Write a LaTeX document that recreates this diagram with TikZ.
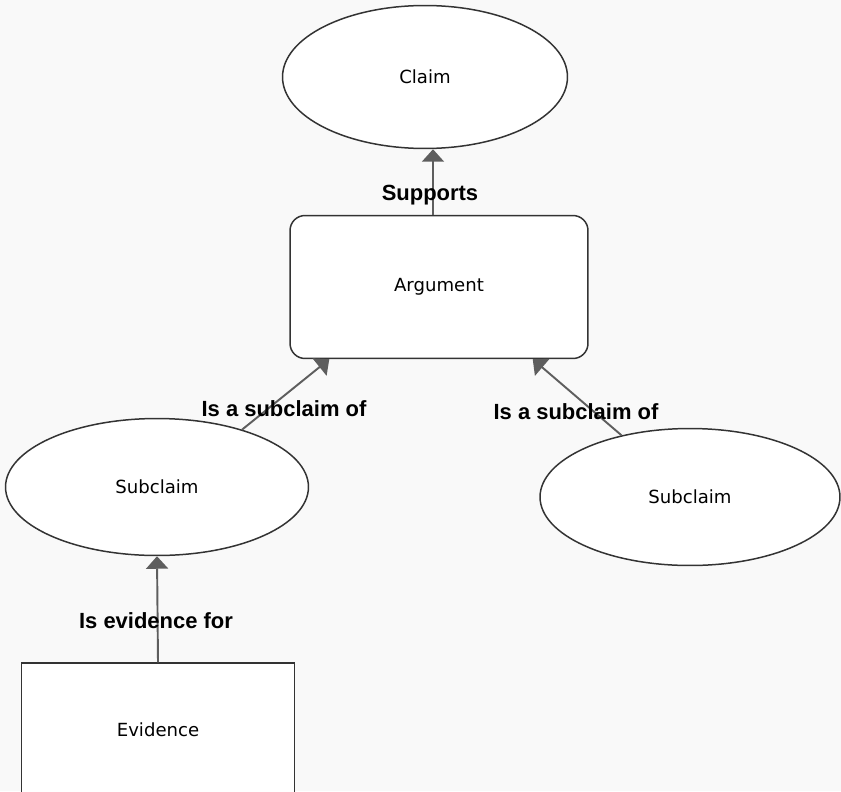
\documentclass[tikz,border=0pt]{standalone}
\usepackage{fontspec}
\setmainfont{DejaVu Sans}
\newfontfamily\lblfont{Liberation Sans}
\usepackage{xcolor}
\usetikzlibrary{shapes.geometric,arrows.meta}
\definecolor{edgegray}{HTML}{5E5E5E}
\definecolor{linegray}{HTML}{333333}
\definecolor{paper}{HTML}{F9F9F9}
\tikzset{
    EL1/.style ={ellipse, draw=linegray, line width=0.85pt, fill=white, font=\fontsize{10.3}{12}\selectfont},
    RA1/.style ={rectangle, rounded corners=0.3cm, draw=linegray, line width=0.85pt, fill=white, font=\fontsize{10.3}{12}\selectfont},
    RA2/.style ={rectangle, draw=linegray, line width=0.85pt, fill=white, font=\fontsize{10.3}{12}\selectfont},
    AR1/.style ={draw=edgegray, line width=1.1pt, -{Triangle[width=0.44cm,length=0.25cm]}},
    LB1/.style ={font=\lblfont\bfseries\fontsize{12.5}{14}\selectfont}
}
\begin{document}
\begin{tikzpicture}[x=0.02cm,y=-0.02cm]
        \useasboundingbox (0,0) rectangle (841,791);
        \fill[paper] (0,0) rectangle (841,791);
        \clip (0,0) rectangle (841,791);
        \node[EL1, minimum width=5.7cm, minimum height=2.86cm] (claim) at(425,77) {Claim};
        \node[RA1, minimum width=5.96cm, minimum height=2.86cm] (arg) at(439,287) {Argument};
        \node[EL1, minimum width=6.06cm, minimum height=2.74cm] (sub1) at(157,487) {Subclaim};
        \node[EL1, minimum width=6cm, minimum height=2.74cm] (sub2) at(690,497) {Subclaim};
        \node[RA2, minimum width=5.46cm, minimum height=2.68cm] (ev) at(158,730) {Evidence};
        \draw[AR1] ([xshift=-0.12cm]arg.north) -- ([xshift=-0.12cm]arg.north |- claim.south);
        \draw[AR1] (sub1.34) -- ([xshift=0.8cm]arg.south west);
        \draw[AR1] (sub2.138) -- ([xshift=-1.12cm]arg.south east);
        \draw[AR1] (ev.north) -- (sub1.south);
        \node[LB1] (l1) at(430,195) {Supports};
        \node[LB1] (l2) at(284,409) {Is a subclaim of};
        \node[LB1] (l3) at(576,412) {Is a subclaim of};
        \node[LB1] (l4) at(156,621) {Is evidence for};
    \end{tikzpicture}
\end{document}
